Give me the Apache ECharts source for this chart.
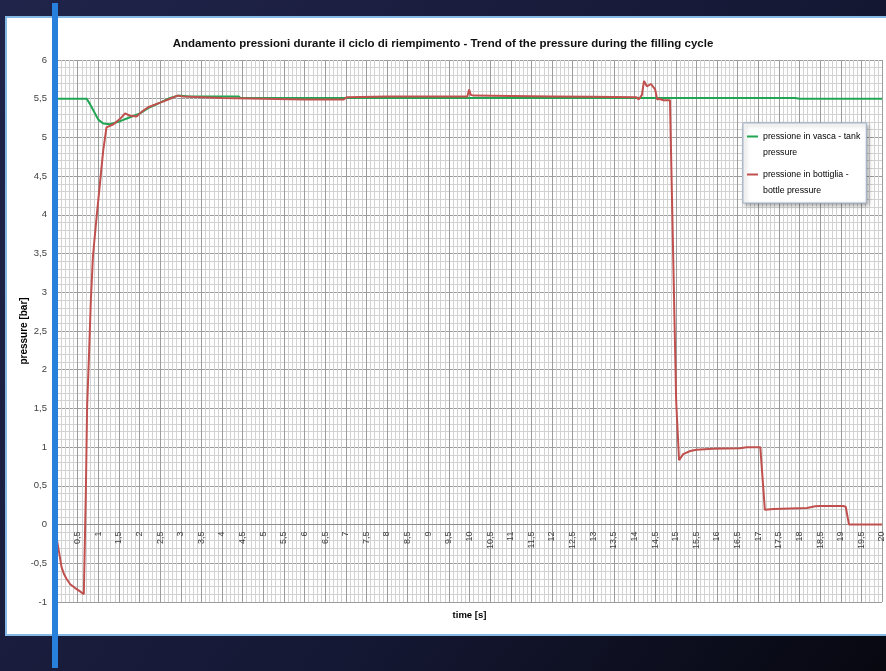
<!DOCTYPE html>
<html>
<head>
<meta charset="utf-8">
<script src="https://cdn.jsdelivr.net/npm/echarts@6/dist/echarts.min.js"></script>
<style>
  html, body { margin: 0; padding: 0; background: #12152a; }
  #chart { width: 886px; height: 671px; }
</style>
</head>
<body>
<div id="chart"></div>
<script>
const FONT = '"Liberation Sans", Arial, sans-serif';

// tank pressure (green)
const tankTime = [0, 0.72, 0.8, 0.88, 1.0, 1.12, 1.28, 1.53, 1.77, 2.01, 2.25, 2.5, 2.74, 2.94, 3.2, 4.4, 4.45, 7.0, 10, 14, 17.9, 18.0, 20];
const tankPressure = [5.5, 5.5, 5.43, 5.35, 5.23, 5.18, 5.17, 5.21, 5.26, 5.31, 5.39, 5.45, 5.51, 5.54, 5.53, 5.53, 5.51, 5.51, 5.51, 5.51, 5.51, 5.5, 5.5];

// bottle pressure (red)
const bottleTime = [0, 0.07, 0.11, 0.17, 0.23, 0.32, 0.44, 0.55, 0.65, 0.66, 0.7, 0.73, 0.78, 0.82, 0.87, 0.9, 0.96, 1.04, 1.12, 1.2,
  1.37, 1.53, 1.65, 1.77, 1.93, 2.05, 2.21, 2.5, 2.74, 2.92, 3.06, 4.0, 5.0, 6.0, 6.95, 7.02, 8, 9, 9.95, 9.99, 10.03, 10.1,
  11, 12, 13, 14.05, 14.1, 14.18, 14.23, 14.3, 14.4, 14.5, 14.55, 14.6, 14.7, 14.86, 15.01, 15.08, 15.18, 15.35, 15.5, 15.9,
  16.56, 16.72, 17.05, 17.16, 17.2, 17.37, 18.18, 18.38, 18.5, 19.06, 19.12, 19.2, 20];
const bottlePressure = [-0.2, -0.42, -0.55, -0.64, -0.7, -0.77, -0.82, -0.86, -0.9, -0.88, 0.44, 1.52, 2.25, 2.89, 3.45, 3.63, 3.97, 4.4, 4.83, 5.13,
  5.17, 5.24, 5.31, 5.28, 5.27, 5.33, 5.39, 5.45, 5.5, 5.54, 5.53, 5.51, 5.5, 5.49, 5.49, 5.52, 5.53, 5.53, 5.53, 5.62, 5.55, 5.54,
  5.535, 5.53, 5.525, 5.52, 5.49, 5.55, 5.73, 5.66, 5.69, 5.62, 5.49, 5.5, 5.48, 5.48, 1.6, 0.83, 0.91, 0.95, 0.965, 0.98,
  0.985, 1.0, 1.0, 0.19, 0.19, 0.2, 0.215, 0.236, 0.24, 0.24, 0.23, 0, 0];

const yMin = -1;
const yMax = 6;

const seriesNames = ['pressione in vasca - tank pressure', 'pressione in bottiglia - bottle pressure'];
const legendLines = {
  'pressione in vasca - tank pressure': 'pressione in vasca - tank\npressure',
  'pressione in bottiglia - bottle pressure': 'pressione in bottiglia -\nbottle pressure'
};

const comma = (v) => String(v).replace('.', ',');
const pairs = (xs, ys) => xs.map((x, i) => [x, ys[i]]);

const gridTop = 60;
const gridBottom = 69;
const plotHeight = 671 - gridTop - gridBottom;
// x axis crosses at pressure 0 (Excel style), labels go with it
const xAxisOffset = -plotHeight * (0 - yMin) / (yMax - yMin);

const chart = echarts.init(document.getElementById('chart'));

chart.setOption({
  animation: false,
  backgroundColor: {
    type: 'linear', x: 0, y: 0, x2: 1, y2: 1,
    colorStops: [
      { offset: 0, color: '#20244a' },
      { offset: 0.6, color: '#151834' },
      { offset: 1, color: '#070810' }
    ]
  },
  graphic: [
    {
      type: 'rect', z: -10,
      shape: { x: 6, y: 17, width: 890, height: 618 },
      style: { fill: '#ffffff', stroke: '#86b8e6', lineWidth: 2 }
    },
    {
      type: 'rect', z: 100,
      shape: { x: 52, y: 3, width: 6, height: 665 },
      style: { fill: '#2680dc' }
    }
  ],
  title: {
    text: 'Andamento pressioni durante il ciclo di riempimento - Trend of the pressure during the filling cycle',
    left: 'center',
    top: 33,
    textStyle: { fontFamily: FONT, fontSize: 11.5, fontWeight: 'bold', color: '#111' }
  },
  legend: {
    orient: 'vertical',
    left: 743,
    top: 123,
    padding: [6, 6, 5, 4],
    itemGap: 7,
    itemWidth: 11,
    itemHeight: 31,
    icon: 'path://M0,6.5H11V8.5H0Z M0,0H0.01 M0,31H0.01',
    itemStyle: { borderWidth: 0 },
    selectedMode: false,
    backgroundColor: '#ffffff',
    borderColor: '#9fb1c8',
    borderWidth: 1,
    shadowBlur: 4,
    shadowColor: 'rgba(0,0,0,0.35)',
    shadowOffsetX: 2,
    shadowOffsetY: 2,
    data: seriesNames,
    formatter: (name) => legendLines[name],
    textStyle: { fontFamily: FONT, fontSize: 8.8, lineHeight: 15.5, color: '#000' }
  },
  grid: { left: 57, right: 4, top: gridTop, bottom: gridBottom, outerBoundsMode: 'none' },
  xAxis: {
    type: 'value',
    min: 0,
    max: 20,
    interval: 0.5,
    offset: xAxisOffset,
    name: 'time [s]',
    nameLocation: 'middle',
    nameGap: 86,
    nameMoveOverlap: false,
    nameTextStyle: { fontFamily: FONT, fontSize: 9.5, fontWeight: 'bold', color: '#000' },
    axisLine: { onZero: false, lineStyle: { color: '#8c8c8c', width: 1 } },
    axisTick: { show: false },
    axisLabel: {
      rotate: 90,
      margin: 7,
      fontFamily: FONT,
      fontSize: 9,
      color: '#404040',
      formatter: (v) => (v === 0 ? '' : comma(v))
    },
    splitLine: { show: true, lineStyle: { color: '#9c9c9c', width: 1 } },
    minorTick: { show: false, splitNumber: 5 },
    minorSplitLine: { show: true, lineStyle: { color: '#d2d2d2', width: 1 } }
  },
  yAxis: {
    type: 'value',
    min: yMin,
    max: yMax,
    interval: 0.5,
    name: 'pressure [bar]',
    nameLocation: 'middle',
    nameGap: 28,
    nameMoveOverlap: false,
    nameTextStyle: { fontFamily: FONT, fontSize: 10, fontWeight: 'bold', color: '#000' },
    axisLine: { show: false, onZero: false },
    axisTick: { show: false },
    axisLabel: {
      margin: 10,
      fontFamily: FONT,
      fontSize: 9.5,
      color: '#404040',
      formatter: (v) => comma(v)
    },
    splitLine: { show: true, lineStyle: { color: '#9c9c9c', width: 1 } },
    minorTick: { show: false, splitNumber: 5 },
    minorSplitLine: { show: true, lineStyle: { color: '#d2d2d2', width: 1 } }
  },
  series: [
    {
      name: seriesNames[0],
      type: 'line',
      showSymbol: false,
      symbol: 'none',
      data: pairs(tankTime, tankPressure),
      itemStyle: { color: '#21a553' },
      lineStyle: { color: '#21a553', width: 2 }
    },
    {
      name: seriesNames[1],
      type: 'line',
      showSymbol: false,
      symbol: 'none',
      data: pairs(bottleTime, bottlePressure),
      itemStyle: { color: '#c0504d' },
      lineStyle: { color: '#c0504d', width: 2 }
    }
  ]
});
</script>
</body>
</html>
